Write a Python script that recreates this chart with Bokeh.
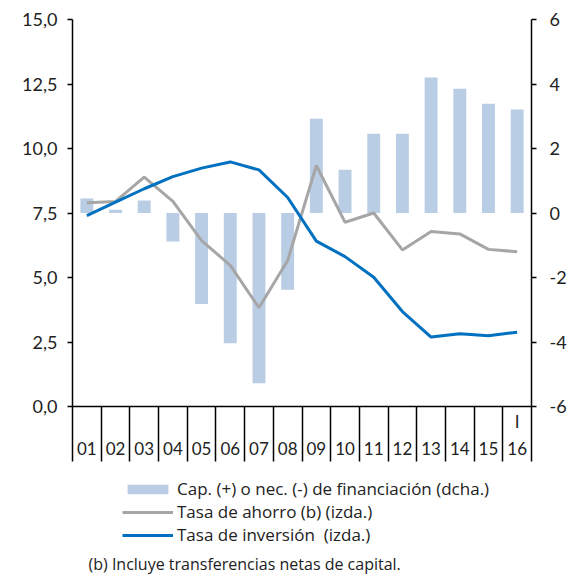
from bokeh.plotting import figure
from bokeh.models import (Range1d, LinearAxis, FixedTicker, Legend, LegendItem, Label)
from bokeh.layouts import column
from bokeh.embed import file_html
from bokeh.resources import INLINE

years = ["01", "02", "03", "04", "05", "06", "07", "08",
         "09", "10", "11", "12", "13", "14", "15", "16"]
period_marks = ["", "", "", "", "", "", "", "",
                "", "", "", "", "", "", "", "I"]
cap_nec = [0.45, 0.1, 0.39, -0.88, -2.82, -4.04, -5.28, -2.38,
           2.92, 1.34, 2.46, 2.46, 4.2, 3.85, 3.39, 3.21]
tasa_ahorro = [7.9, 7.95, 8.89, 7.95, 6.43, 5.47, 3.83, 5.66,
               9.34, 7.14, 7.5, 6.07, 6.78, 6.69, 6.09, 6.0]
tasa_inversion = [7.4, 7.92, 8.44, 8.91, 9.24, 9.48, 9.17, 8.1,
                  6.41, 5.81, 5.01, 3.68, 2.69, 2.82, 2.74, 2.88]
left_ticks = [0, 2.5, 5, 7.5, 10, 12.5, 15]
left_tick_labels = ["0,0", "2,5", "5,0", "7,5", "10,0", "12,5", "15,0"]
right_ticks = [-6, -4, -2, 0, 2, 4, 6]
right_tick_labels = ["-6", "-4", "-2", "0", "2", "4", "6"]
names = ["Cap. (+) o nec. (-) de financiación (dcha.)",
         "Tasa de ahorro (b) (izda.)",
         "Tasa de inversión  (izda.)"]
footnote = "(b) Incluye transferencias netas de capital."

FONT = "Lato"
FONT2 = "Open Sans"
TXT = "#222222"
BAR = "#b9cde5"
GRAY = "#a6a6a6"
BLUE = "#0070c0"

n = len(years)
xs = [i + 0.5 for i in range(n)]

# ---------------- main chart ----------------
p = figure(width=574, height=466, output_backend="svg", toolbar_location=None,
           x_range=Range1d(0, n), y_range=Range1d(0, 15),
           min_border_left=72, min_border_right=43, min_border_top=19,
           min_border_bottom=60, x_axis_location=None, y_axis_location=None)
p.extra_y_ranges = {"right": Range1d(-6, 6)}
p.outline_line_color = None
p.grid.visible = False
p.background_fill_color = "white"
p.border_fill_color = "white"

p.vbar(x=xs, top=cap_nec, bottom=0, width=0.45, color=BAR,
       line_color=None, y_range_name="right")
p.line(xs, tasa_ahorro, line_color=GRAY, line_width=3)
p.line(xs, tasa_inversion, line_color=BLUE, line_width=3)

ly = LinearAxis(ticker=FixedTicker(ticks=left_ticks, minor_ticks=[]),
                major_label_overrides=dict(zip(left_ticks, left_tick_labels)))
ry = LinearAxis(y_range_name="right",
                ticker=FixedTicker(ticks=right_ticks, minor_ticks=[]),
                major_label_overrides=dict(zip(right_ticks, right_tick_labels)))
for ax, st in ((ly, 10), (ry, 13)):
    ax.major_tick_out = 5
    ax.major_tick_in = 0
    ax.minor_tick_line_color = None
    ax.axis_line_color = "black"
    ax.axis_line_width = 1.5
    ax.major_tick_line_color = "black"
    ax.major_tick_line_width = 1.5
    ax.major_label_text_font = FONT
    ax.major_label_text_font_size = "18px"
    ax.major_label_text_color = TXT
    ax.major_label_standoff = st
p.add_layout(ly, "left")
p.add_layout(ry, "right")

bx = LinearAxis(ticker=FixedTicker(ticks=xs, minor_ticks=list(range(n + 1))),
                major_label_overrides={x: m + "\n" + y
                                       for x, m, y in zip(xs, period_marks, years)})
bx.major_tick_line_color = None
bx.major_tick_out = 0
bx.major_tick_in = 0
bx.minor_tick_out = 55
bx.minor_tick_in = 0
bx.minor_tick_line_color = "black"
bx.minor_tick_line_width = 1.5
bx.axis_line_color = "black"
bx.axis_line_width = 1.5
bx.major_label_text_font = FONT
bx.major_label_text_font_size = "17px"
bx.major_label_text_color = TXT
bx.major_label_text_line_height = 1.3
bx.major_label_standoff = -51
p.add_layout(bx, "below")

# ---------------- legend + footnote panel ----------------
# Series are drawn again here only to provide legend swatches; the ranges
# keep them out of view.
p2 = figure(width=574, height=110, output_backend="svg", toolbar_location=None,
            x_range=Range1d(100, 101), y_range=Range1d(100, 101),
            min_border_left=0, min_border_right=0, min_border_top=0,
            min_border_bottom=0, x_axis_location=None, y_axis_location=None)
p2.outline_line_color = None
p2.grid.visible = False
p2.background_fill_color = "white"
p2.border_fill_color = "white"

r_bar = p2.vbar(x=xs, top=cap_nec, bottom=0, width=0.45, color=BAR, line_color=None)
r_gray = p2.line(xs, tasa_ahorro, line_color=GRAY, line_width=3)
r_blue = p2.line(xs, tasa_inversion, line_color=BLUE, line_width=3)

legend = Legend(items=[LegendItem(label=names[0], renderers=[r_bar]),
                       LegendItem(label=names[1], renderers=[r_gray]),
                       LegendItem(label=names[2], renderers=[r_blue])],
                location=(50, 30), orientation="vertical",
                glyph_width=51, glyph_height=12, label_standoff=4,
                label_height=18, spacing=0, padding=0, margin=0,
                border_line_color=None, background_fill_alpha=0,
                label_text_font=FONT2, label_text_font_size="17px",
                label_text_line_height=1.0,
                label_text_color=TXT)
p2.add_layout(legend, "center")

p2.add_layout(Label(x=16, y=13, x_units="screen", y_units="screen", text=footnote,
                    text_font=FONT2, text_font_size="16px", text_baseline="middle",
                    text_color=TXT))

layout = column(p, p2, spacing=0)
open("out.html", "w").write(file_html(layout, INLINE))
